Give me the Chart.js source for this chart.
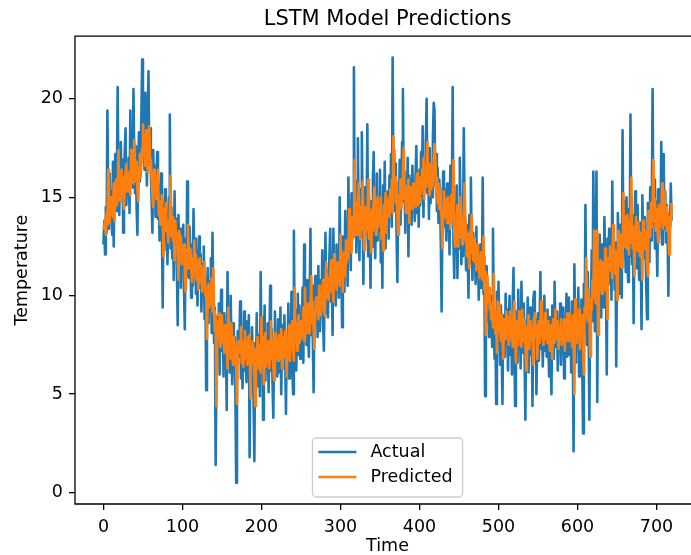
<!DOCTYPE html>
<html>
<head>
<meta charset="utf-8">
<script src="https://cdn.jsdelivr.net/npm/chart.js@4.4.0/dist/chart.umd.min.js"></script>
<style>
  html, body { margin: 0; padding: 0; background: #fff; overflow: hidden; }
  #wrap { position: relative; width: 691px; height: 555px; overflow: hidden; }
  #lstm { display: block; }
</style>
</head>
<body>
<div id="wrap"><canvas id="lstm" width="700" height="555"></canvas></div>
<script>
// daily temperature, one value per time step (0..719)
const actual = [
  12.6,13.8,12.1,14.5,13.2,19.4,15.1,13.4,16.2,14.0,
  15.3,13.1,16.8,12.5,15.9,17.2,14.3,16.0,20.6,15.2,
  14.1,16.5,17.8,15.0,16.9,13.2,15.7,17.4,18.5,14.6,
  16.1,15.4,17.0,14.2,19.4,16.3,18.1,15.5,20.5,16.8,
  15.2,17.6,14.4,13.1,16.9,18.3,15.8,17.2,19.1,22.0,
  17.5,19.8,16.4,20.3,18.0,15.6,19.2,21.4,16.9,18.5,
  16.2,14.8,13.2,17.4,15.1,16.6,14.0,15.9,17.3,13.9,
  15.6,12.8,14.9,16.2,13.5,9.4,14.7,12.3,15.4,13.0,
  14.2,11.6,13.8,15.0,19.2,12.4,14.5,11.9,13.6,10.8,
  15.3,12.7,13.9,11.2,8.5,14.1,12.0,13.4,10.4,12.8,
  11.5,13.6,10.2,8.3,12.9,11.0,15.8,12.3,10.9,13.5,
  11.8,9.9,12.6,10.5,14.4,11.3,12.9,10.1,12.2,9.5,
  11.7,13.0,10.4,12.1,9.2,11.6,10.3,12.5,8.8,10.9,
  5.2,9.8,11.4,8.6,10.7,9.3,11.9,8.1,13.2,10.0,
  7.6,9.4,1.4,6.3,8.9,7.1,9.6,6.0,8.4,10.3,
  7.2,8.8,5.9,9.1,6.6,8.0,4.2,11.2,7.5,9.0,
  6.1,10.0,7.4,5.5,8.6,6.8,7.9,5.0,0.5,6.4,
  8.2,6.9,7.7,9.7,5.8,8.1,5.3,7.0,9.2,6.2,
  7.8,5.6,8.7,6.5,9.0,1.8,7.3,5.9,8.4,6.7,
  4.6,1.6,7.6,6.0,9.1,5.4,8.0,6.8,4.9,11.2,
  7.1,8.9,3.7,6.6,9.5,5.7,7.9,6.3,8.6,5.1,
  7.4,10.5,6.2,8.3,5.5,3.8,7.7,9.2,6.4,8.0,
  5.9,8.8,7.2,6.1,9.4,5.0,7.6,8.5,6.3,9.0,
  7.0,4.0,8.2,6.7,9.6,5.8,8.4,7.1,10.2,6.5,
  5.0,13.3,7.8,9.3,6.2,8.7,10.1,7.0,9.5,6.8,
  8.9,7.3,10.4,6.6,12.6,8.1,9.7,7.5,10.8,8.3,
  6.9,9.9,13.4,8.0,10.5,7.7,5.1,9.4,11.0,8.6,
  10.2,7.9,11.5,9.0,8.2,10.8,9.4,12.3,8.7,7.2,
  10.6,13.2,9.1,11.3,8.9,10.4,12.0,13.4,9.7,11.1,
  8.0,13.4,10.3,11.8,9.5,12.6,10.9,11.4,9.9,15.0,
  10.8,12.1,8.4,13.0,11.6,10.2,14.3,11.9,12.7,10.5,
  16.0,12.4,13.8,11.3,15.2,12.9,14.6,21.6,13.1,15.8,
  12.2,14.9,18.0,13.6,11.8,15.4,13.0,18.3,14.1,10.6,
  15.5,12.7,14.3,13.2,18.7,12.0,15.1,13.7,10.4,14.8,
  12.5,15.9,17.3,13.4,11.9,14.6,16.2,12.8,15.0,13.3,
  16.4,11.7,14.2,10.4,15.6,13.1,16.8,12.4,14.9,13.6,
  15.3,12.9,16.1,14.0,17.2,13.5,22.1,15.8,17.4,14.3,
  16.7,13.0,10.7,15.2,14.1,16.9,13.6,15.5,17.8,20.5,
  14.8,16.3,13.2,15.7,14.5,17.0,12.0,16.1,14.4,15.9,
  13.6,16.6,14.9,15.3,13.8,16.0,17.6,14.2,15.8,13.5,
  16.4,14.6,17.3,15.1,18.6,14.0,16.9,15.4,17.7,20.0,
  15.2,16.8,13.9,17.5,14.7,16.2,15.0,18.1,19.8,19.4,
  15.6,17.2,14.3,16.5,13.7,15.9,14.8,12.6,9.2,14.1,
  16.3,13.5,15.4,14.0,12.8,15.7,13.3,14.9,12.1,16.6,
  13.8,15.2,20.6,12.7,10.9,14.5,13.0,15.6,10.9,13.9,
  12.4,17.0,14.3,11.6,13.7,12.0,18.5,14.8,12.9,11.3,
  13.6,12.2,9.9,14.1,11.7,16.0,12.5,10.8,13.2,11.5,
  12.8,10.6,13.5,11.0,12.3,9.8,11.9,12.6,10.4,11.2,
  16.0,10.1,12.0,4.9,9.4,11.5,8.7,10.3,7.9,9.6,
  8.2,10.0,7.4,13.4,9.1,6.8,8.9,4.5,10.2,7.6,
  10.7,8.3,6.5,9.5,7.2,4.5,9.0,8.1,6.9,10.1,
  7.8,9.3,6.2,8.6,10.0,7.0,8.8,6.0,9.7,11.4,
  7.5,4.4,9.2,8.0,6.6,10.3,7.7,8.9,6.3,10.7,
  8.4,7.1,9.6,6.8,3.7,8.7,7.4,9.9,6.1,8.2,
  9.4,7.0,8.3,4.4,9.8,10.2,7.6,8.8,5.0,7.9,
  9.1,6.7,8.5,11.2,7.3,9.0,6.4,8.1,10.0,7.2,
  8.6,6.9,9.3,7.8,5.9,8.9,7.0,5.0,9.5,8.2,
  6.8,10.7,8.0,7.4,9.2,6.2,8.7,7.6,9.6,6.5,
  8.3,7.1,9.4,5.8,8.6,7.3,10.1,6.9,8.4,9.9,
  7.0,8.8,6.1,9.7,7.5,2.1,11.6,8.2,6.6,9.0,
  7.8,10.4,5.9,8.9,7.2,9.8,6.4,3.0,10.6,8.1,
  14.6,9.3,7.5,11.2,8.4,3.7,10.1,9.0,12.3,8.7,
  16.3,10.5,8.2,12.0,16.3,4.6,11.4,9.6,13.1,10.0,
  8.9,12.6,10.8,9.4,14.0,11.7,10.2,6.0,12.9,11.0,
  13.4,10.6,12.2,9.8,15.8,11.5,13.0,10.3,12.7,6.4,
  11.9,14.2,12.5,10.1,13.6,11.8,9.9,18.4,12.4,14.8,
  13.1,11.2,15.0,12.3,10.7,14.4,12.0,19.2,13.5,11.6,
  14.1,8.6,12.9,15.3,13.0,11.4,14.6,12.2,10.8,13.7,
  12.5,8.3,15.1,13.2,11.9,14.0,12.6,10.4,8.8,14.7,
  13.3,11.7,15.5,12.8,14.2,20.5,13.6,15.9,12.4,14.8,
  13.0,11.0,15.4,12.9,14.3,13.5,17.8,12.6,14.0,17.2,
  13.4,15.3,12.7,14.6,13.1,10.0,14.2,13.3,15.7,13.8
];

const predicted = [
  13.5,13.4,13.9,13.1,14.2,13.6,16.4,14.5,13.7,15.0,
  14.4,15.0,14.0,15.7,13.8,15.3,15.9,14.6,15.3,17.4,
  15.3,14.8,15.8,16.4,15.2,16.0,14.4,15.5,16.3,16.7,
  15.3,15.9,15.6,16.3,15.1,17.4,16.0,16.8,15.7,17.9,
  16.5,15.8,16.8,15.4,14.8,16.5,17.2,16.0,16.7,17.5,
  18.7,17.1,18.2,16.6,18.4,17.3,16.3,17.9,18.6,16.8,
  16.9,15.9,15.2,14.5,16.4,15.4,16.1,14.9,15.7,16.4,
  14.1,14.8,13.6,14.5,15.1,13.9,12.0,14.4,13.3,14.7,
  13.3,13.8,12.7,13.6,14.2,16.1,13.0,14.0,12.8,13.6,
  11.8,13.8,12.7,13.2,12.0,10.8,13.3,12.3,13.0,11.6,
  12.3,11.7,12.6,11.1,10.2,12.3,11.4,13.6,12.0,11.4,
  12.4,11.6,10.7,11.9,11.0,12.8,11.4,12.1,10.8,11.8,
  10.3,11.3,11.9,10.7,11.5,10.2,11.3,10.7,11.7,10.0,
  10.4,7.8,9.9,10.6,9.4,10.3,9.7,10.9,9.2,11.4,
  9.2,8.2,9.0,4.4,7.6,8.7,7.9,9.1,7.4,8.5,
  9.0,7.6,8.4,7.1,8.5,7.4,8.0,6.3,9.4,7.8,
  8.1,6.8,8.6,7.4,6.5,7.9,7.1,7.6,6.3,4.5,
  6.9,7.7,7.1,7.5,8.4,6.6,7.7,6.4,7.2,8.2,
  6.8,7.5,6.5,7.9,6.9,8.0,4.8,7.3,6.6,7.7,
  6.9,5.9,4.4,7.3,6.6,7.9,6.3,7.5,6.9,6.1,
  8.9,7.1,7.9,5.5,6.8,8.1,6.4,7.4,6.7,7.7,
  6.3,7.3,8.7,6.8,7.7,6.4,5.7,7.4,8.1,6.8,
  7.7,6.7,8.0,7.3,6.8,8.3,6.3,7.5,7.9,6.9,
  8.2,7.3,5.9,7.8,7.2,8.5,6.7,7.9,7.3,8.7,
  7.3,6.7,10.4,7.9,8.6,7.2,8.3,9.0,7.6,8.7,
  7.8,8.7,8.0,9.4,7.7,10.4,8.4,9.1,8.1,9.6,
  8.7,8.1,9.4,11.0,8.6,9.7,8.4,7.3,9.2,9.9,
  9.2,9.9,8.8,10.5,9.3,9.0,10.1,9.5,10.8,9.2,
  9.0,10.6,11.7,9.9,10.9,9.8,10.5,11.2,11.8,10.2,
  11.1,9.7,12.1,10.7,11.4,10.3,11.7,11.0,11.2,10.5,
  13.1,11.2,11.8,10.2,12.2,11.6,11.0,12.8,11.7,12.1,
  11.9,14.4,12.7,13.4,12.2,14.0,13.0,13.7,16.9,13.1,
  14.7,13.1,14.3,15.7,13.7,12.9,14.5,13.4,15.8,13.9,
  12.3,14.5,13.2,13.9,13.4,15.9,12.9,14.3,13.7,12.2,
  14.4,13.3,14.9,15.5,13.7,13.1,14.3,15.0,13.5,14.5,
  13.6,15.0,12.9,14.0,12.3,14.6,13.5,15.2,13.2,14.3,
  14.3,15.0,14.0,15.4,14.4,15.9,14.2,18.1,15.3,16.0,
  14.7,15.8,14.1,13.1,15.1,14.6,15.9,14.4,15.2,16.3,
  17.5,14.9,15.6,14.2,15.3,14.8,15.9,13.7,15.5,14.7,
  15.4,14.4,15.7,15.0,15.1,14.5,15.5,16.2,14.6,15.4,
  14.7,16.0,15.2,16.4,15.4,17.0,14.9,16.2,15.5,16.6,
  17.8,15.6,16.4,15.1,16.7,15.4,16.1,15.6,17.0,17.7,
  17.0,15.3,16.0,14.7,15.7,14.4,15.4,14.9,13.9,12.4,
  14.3,15.3,14.0,14.9,14.2,13.7,15.0,13.9,14.6,13.4,
  15.1,13.8,14.4,16.9,13.3,12.5,14.1,13.4,14.6,12.5,
  13.6,13.0,15.0,13.8,12.6,13.5,12.8,15.7,14.0,13.2,
  12.0,13.1,12.4,11.4,13.3,12.2,14.1,12.6,11.8,12.9,
  11.7,12.3,11.3,12.6,11.4,12.0,10.9,11.9,12.2,11.2,
  10.8,13.0,10.3,11.2,8.0,10.0,11.0,9.7,10.4,9.3,
  9.4,8.8,9.6,8.4,11.1,9.2,8.1,9.1,7.1,9.7,
  8.2,9.6,8.5,7.7,9.0,8.0,6.8,8.8,8.4,7.8,
  9.2,8.2,8.9,7.5,8.6,9.2,7.8,8.6,7.4,9.1,
  9.7,8.0,6.6,8.7,8.2,7.5,9.2,8.0,8.6,7.4,
  9.3,8.3,7.7,8.8,7.6,6.2,8.4,7.8,9.0,7.3,
  8.2,8.7,7.7,8.3,6.5,8.9,9.1,7.9,8.5,6.8,
  8.2,8.7,7.6,8.5,9.7,7.9,8.7,7.5,8.3,9.1,
  7.8,8.4,7.6,8.7,8.0,7.2,8.5,7.7,6.8,8.8,
  8.2,7.6,9.3,8.1,7.8,8.7,7.3,8.4,7.9,8.8,
  7.5,8.3,7.8,8.8,7.2,8.4,7.9,9.1,7.7,8.3,
  9.1,7.8,8.6,7.4,9.0,8.0,5.0,9.8,8.3,7.6,
  8.7,8.1,9.3,7.3,8.6,7.9,9.0,7.5,6.0,9.4,
  8.9,11.9,9.5,8.7,10.3,9.1,6.9,9.8,9.3,10.8,
  9.9,13.3,10.7,9.6,11.3,13.3,8.0,11.1,10.3,11.8,
  10.6,10.1,11.7,10.9,10.3,12.4,11.3,10.6,8.8,11.9,
  11.4,12.5,11.3,12.0,10.9,13.6,11.7,12.3,11.1,12.2,
  9.8,12.3,13.3,12.6,11.5,13.1,12.2,11.4,15.2,12.5,
  14.0,13.2,12.4,14.1,12.9,12.1,13.8,12.7,16.0,13.4,
  12.4,13.5,11.0,13.0,14.0,13.0,12.3,13.7,12.6,12.0,
  13.2,12.7,10.8,13.8,13.0,12.4,13.3,12.7,11.7,11.0,
  14.3,13.7,13.0,14.7,13.5,14.1,16.9,13.8,14.9,13.3,
  14.4,13.6,12.7,14.6,13.5,14.1,13.8,15.7,13.4,14.0,
  15.3,13.6,14.5,13.3,14.2,13.5,12.1,14.0,13.6,14.7
];

const xTicks = [0, 100, 200, 300, 400, 500, 600, 700];
const yTicks = [0, 5, 10, 15, 20];
const seriesNames = ['Actual', 'Predicted'];

const BLUE = '#1f77b4';
const ORANGE = '#ff7f0e';
const FONT = 'DejaVu Sans';

function toPoints(values) {
  return values.map(function (v, i) { return { x: i, y: v }; });
}

// spines: left, top, bottom; the axes run off the right edge of the picture
const frame = {
  id: 'frame',
  afterDraw(chart) {
    const a = chart.chartArea;
    const ctx = chart.ctx;
    ctx.save();
    // nothing but white between the last point and the cut edge
    ctx.fillStyle = '#fff';
    ctx.fillRect(684, a.top - 3, chart.width - 684, a.bottom - a.top + 6);
    ctx.strokeStyle = '#000';
    ctx.lineWidth = 1.3;
    ctx.beginPath();
    ctx.moveTo(chart.width, a.top);
    ctx.lineTo(a.left, a.top);
    ctx.lineTo(a.left, a.bottom);
    ctx.lineTo(chart.width, a.bottom);
    ctx.stroke();
    ctx.restore();
  }
};

// legend drawn inside the axes, lower centre
const boxLegend = {
  id: 'boxLegend',
  afterDraw(chart) {
    const ctx = chart.ctx;
    const a = chart.chartArea;
    const sets = chart.data.datasets;
    ctx.save();
    ctx.font = '17.5px "' + FONT + '"';
    const textW = Math.max.apply(null, sets.map(function (d) { return ctx.measureText(d.label).width; }));
    const w = 6 + 38 + 14 + textW + 10;
    const h = 59;
    const x = (a.left + a.right) / 2 - w / 2;
    const y = a.bottom - 7 - h;
    ctx.fillStyle = 'rgba(255,255,255,0.8)';
    ctx.strokeStyle = '#cccccc';
    ctx.lineWidth = 1.3;
    ctx.beginPath();
    ctx.roundRect(x, y, w, h, 4);
    ctx.fill();
    ctx.stroke();
    sets.forEach(function (d, i) {
      const ry = y + 14 + i * 25;
      ctx.strokeStyle = d.borderColor;
      ctx.lineWidth = 2.6;
      ctx.beginPath();
      ctx.moveTo(x + 6, ry);
      ctx.lineTo(x + 44, ry);
      ctx.stroke();
      ctx.fillStyle = '#000';
      ctx.textBaseline = 'middle';
      ctx.textAlign = 'left';
      ctx.fillText(d.label, x + 58, ry);
    });
    ctx.restore();
  }
};

const ctx = document.getElementById('lstm').getContext('2d');

new Chart(ctx, {
  type: 'line',
  data: {
    datasets: [{
      label: seriesNames[0],
      data: toPoints(actual),
      borderColor: BLUE,
      borderWidth: 2.6,
      borderJoinStyle: 'round',
      pointRadius: 0,
      fill: false,
      tension: 0,
      order: 1
    }, {
      label: seriesNames[1],
      data: toPoints(predicted),
      borderColor: ORANGE,
      borderWidth: 2.6,
      borderJoinStyle: 'round',
      pointRadius: 0,
      fill: false,
      tension: 0,
      order: 0
    }]
  },
  options: {
    responsive: false,
    animation: false,
    devicePixelRatio: 1,
    layout: { padding: 0 },
    plugins: {
      legend: { display: false },
      tooltip: { enabled: false },
      title: {
        display: true,
        fullSize: false,
        text: 'LSTM Model Predictions',
        color: '#000',
        font: { family: FONT, size: 21, weight: 'normal' },
        padding: { top: 7, bottom: 4 }
      }
    },
    scales: {
      x: {
        type: 'linear',
        min: -36,
        max: 755,
        afterBuildTicks: function (s) { s.ticks = xTicks.map(function (v) { return { value: v }; }); },
        afterFit: function (s) { s.height = 51; },
        ticks: {
          color: '#000',
          font: { family: FONT, size: 17.5 },
          padding: 7,
          maxRotation: 0,
          autoSkip: false
        },
        grid: { drawOnChartArea: false, tickLength: 6, color: '#000', lineWidth: 1.3 },
        border: { display: false },
        title: {
          display: true,
          text: 'Time',
          color: '#000',
          font: { family: FONT, size: 17.5 },
          padding: { top: 0, bottom: -2 }
        }
      },
      y: {
        type: 'linear',
        min: -0.58,
        max: 23.18,
        afterBuildTicks: function (s) { s.ticks = yTicks.map(function (v) { return { value: v }; }); },
        afterFit: function (s) { s.width = 75; },
        ticks: {
          color: '#000',
          font: { family: FONT, size: 17.5 },
          padding: 6
        },
        grid: { drawOnChartArea: false, tickLength: 6, color: '#000', lineWidth: 1.3 },
        border: { display: false },
        title: {
          display: true,
          text: 'Temperature',
          color: '#000',
          font: { family: FONT, size: 17.5 },
          padding: { top: 12, bottom: 0 }
        }
      }
    }
  },
  plugins: [frame, boxLegend]
});
</script>
</body>
</html>
